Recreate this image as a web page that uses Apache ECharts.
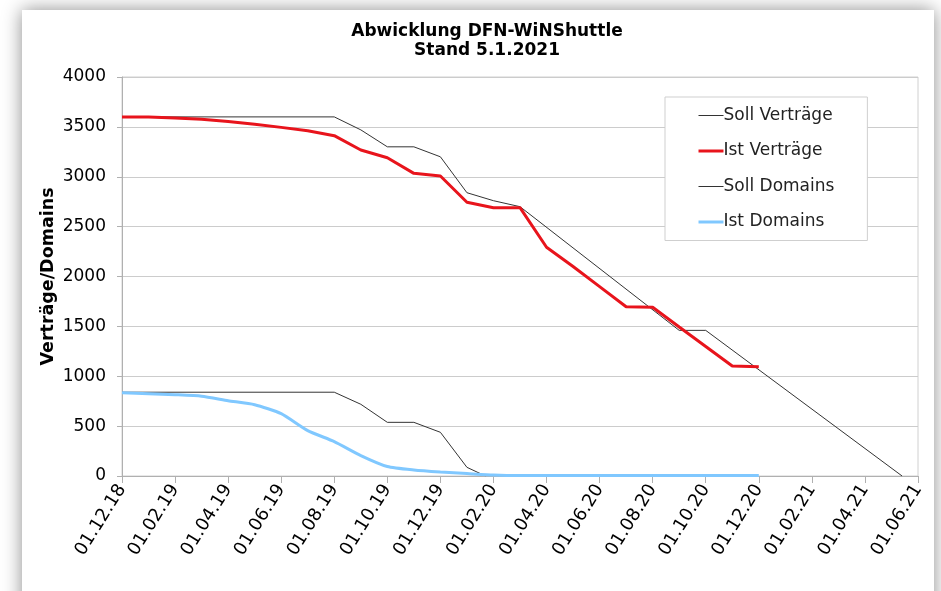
<!DOCTYPE html>
<html>
<head>
<meta charset="utf-8">
<script src="https://cdn.jsdelivr.net/npm/echarts@6/dist/echarts.min.js"></script>
<style>
  html, body { margin: 0; padding: 0; background: #fff; }
  #chart { width: 941px; height: 591px; }
</style>
</head>
<body>
<div id="chart"></div>
<script>
// x = Monate seit 01.12.18
var xTickLabels = ['01.12.18', '01.02.19', '01.04.19', '01.06.19', '01.08.19', '01.10.19', '01.12.19', '01.02.20',
    '01.04.20', '01.06.20', '01.08.20', '01.10.20', '01.12.20', '01.02.21', '01.04.21', '01.06.21'];

var sollVMonths = [0, 8, 9, 10, 11, 12, 13, 14, 15, 21, 22, 29.4];
var sollV = [3600, 3600, 3470, 3300, 3300, 3200, 2840, 2760, 2700, 1460, 1460, 0];

var istVMonths = [0, 1, 2, 3, 4, 5, 6, 7, 8, 9, 10, 11, 12, 13, 14, 15, 16, 17, 18, 19, 20, 21, 22, 23, 24];
var istV = [3600, 3600, 3590, 3576, 3555, 3526, 3495, 3462, 3412, 3268, 3191, 3034, 3007, 2744, 2690, 2690,
    2293, 2100, 1898, 1697, 1691, 1494, 1299, 1103, 1096];

var sollDMonths = [0, 8, 9, 10, 11, 12, 13, 13.7];
var sollD = [840, 840, 719, 538, 538, 438, 87, 0];

var istDMonths = [0, 1, 2, 3, 4, 5, 6, 7, 8, 9, 10, 11, 12, 13, 14, 15, 24];
var istD = [835, 825, 815, 800, 755, 715, 625, 455, 345, 205, 95, 60, 40, 25, 10, 5, 5];

function pairs(xs, ys) {
    var out = [];
    for (var i = 0; i < xs.length; i++) {
        out.push([xs[i], ys[i]]);
    }
    return out;
}

var chart = echarts.init(document.getElementById('chart'));
var font = 'DejaVu Sans';
var dark = '#333';
var red = '#e8141c';
var blue = '#80c8ff';

chart.setOption({
    backgroundColor: '#fff',
    animation: false,
    graphic: [{
        type: 'rect',
        z: -10,
        shape: {x: 22, y: 10, width: 912, height: 640},
        style: {fill: '#fff', shadowBlur: 18, shadowColor: 'rgba(0,0,0,0.45)'}
    }],
    title: {
        text: 'Abwicklung DFN-WiNShuttle\nStand 5.1.2021',
        left: 482,
        textAlign: 'center',
        top: 17,
        textStyle: {
            fontFamily: font,
            fontWeight: 'bold',
            fontSize: 17,
            lineHeight: 19,
            color: '#000'
        }
    },
    grid: {
        left: 122,
        right: 23,
        top: 77,
        bottom: 115,
        show: true,
        borderColor: '#d0d0d0',
        borderWidth: 1
    },
    legend: {
        orient: 'vertical',
        left: 665,
        top: 97,
        padding: [10, 33, 10, 32],
        itemGap: 18.5,
        itemWidth: 25,
        itemHeight: 14,
        borderColor: '#cfcfcf',
        borderWidth: 1,
        backgroundColor: '#fff',
        itemStyle: {opacity: 0},
        textStyle: {fontFamily: font, fontSize: 17, color: '#222', padding: [0, 0, 0, -5]},
        data: [
            {name: 'Soll Verträge', lineStyle: {width: 1, color: dark}},
            {name: 'Ist Verträge', lineStyle: {width: 3, color: red}},
            {name: 'Soll Domains', lineStyle: {width: 1, color: dark}},
            {name: 'Ist Domains', lineStyle: {width: 3, color: blue}}
        ]
    },
    xAxis: {
        type: 'value',
        min: 0,
        max: 30,
        interval: 2,
        axisLine: {show: true, lineStyle: {color: '#b0b0b0'}},
        axisTick: {show: true, length: 7, lineStyle: {color: '#b0b0b0'}},
        splitLine: {show: false},
        axisLabel: {
            rotate: 58,
            margin: 10,
            fontFamily: font,
            fontSize: 18,
            color: '#000',
            formatter: function (v) {
                return xTickLabels[Math.round(v / 2)];
            }
        }
    },
    yAxis: {
        type: 'value',
        min: 0,
        max: 4000,
        interval: 500,
        name: 'Verträge/Domains',
        nameLocation: 'middle',
        nameGap: 65,
        nameMoveOverlap: false,
        nameTextStyle: {fontFamily: font, fontWeight: 'bold', fontSize: 17.5, color: '#000'},
        axisLine: {show: true, lineStyle: {color: '#b0b0b0'}},
        axisTick: {show: true, length: 5, lineStyle: {color: '#b0b0b0'}},
        splitLine: {show: true, lineStyle: {color: '#cccccc'}},
        axisLabel: {
            fontFamily: font,
            fontSize: 17,
            color: '#000',
            margin: 16,
            formatter: function (v) {
                return String(v);
            }
        }
    },
    series: [
        {
            name: 'Soll Verträge',
            type: 'line',
            symbol: 'none',
            lineStyle: {color: dark, width: 1},
            itemStyle: {color: dark},
            data: pairs(sollVMonths, sollV)
        },
        {
            name: 'Ist Verträge',
            type: 'line',
            symbol: 'none',
            lineStyle: {color: red, width: 3},
            itemStyle: {color: red},
            data: pairs(istVMonths, istV)
        },
        {
            name: 'Soll Domains',
            type: 'line',
            symbol: 'none',
            lineStyle: {color: dark, width: 1},
            itemStyle: {color: dark},
            data: pairs(sollDMonths, sollD)
        },
        {
            name: 'Ist Domains',
            type: 'line',
            symbol: 'none',
            smooth: 0.2,
            lineStyle: {color: blue, width: 3},
            itemStyle: {color: blue},
            data: pairs(istDMonths, istD)
        }
    ]
});
</script>
</body>
</html>
